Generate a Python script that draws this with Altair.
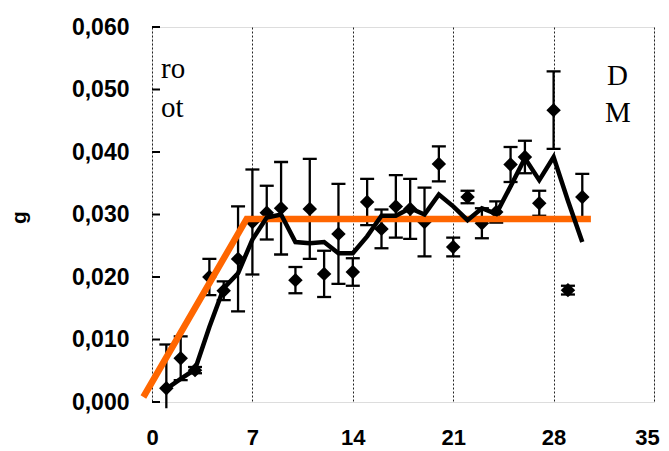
import altair as alt
import pandas as pd

days = list(range(1, 31))
means = [0.0022, 0.0070, 0.0051, 0.0200, 0.0178, 0.0229, 0.0288, 0.0303, 0.0310, 0.0195,
         0.0309, 0.0205, 0.0269, 0.0208, 0.0320, 0.0277, 0.0313, 0.0309, 0.0288, 0.0381,
         0.0248, 0.0328, 0.0286, 0.0304, 0.0380, 0.0392, 0.0318, 0.0467, 0.0179, 0.0328]
errs = [0.0070, 0.0035, 0.0005, 0.0029, 0.0015, 0.0084, 0.0084, 0.0043, 0.0074, 0.0021,
        0.0080, 0.0037, 0.0080, 0.0022, 0.0037, 0.0031, 0.0050, 0.0048, 0.0055, 0.0028,
        0.0015, 0.0010, 0.0024, 0.0017, 0.0028, 0.0026, 0.0020, 0.0062, 0.0007, 0.0037]
smooth = [0.0021, 0.0037, 0.0052, 0.0120, 0.0182, 0.0206, 0.0260, 0.0295, 0.0300, 0.0256,
          0.0254, 0.0256, 0.0238, 0.0238, 0.0265, 0.0298, 0.0298, 0.0310, 0.0300, 0.0332,
          0.0313, 0.0291, 0.0310, 0.0301, 0.0345, 0.0390, 0.0355, 0.0392, 0.0322, 0.0256]

fit_x = [-0.6, 6.6, 30.6]
fit_y = [0.0008, 0.0293, 0.0293]

x_ticks = [0, 7, 14, 21, 28, 35]
y_ticks = [0.0, 0.01, 0.02, 0.03, 0.04, 0.05, 0.06]

ann_text = ["ro", "ot", "D", "M"]
ann_x = [0.63, 0.63, 31.73, 31.59]
ann_y = [0.0518, 0.0456, 0.0507, 0.0448]

Y_FLOOR = -0.001

df = pd.DataFrame({"day": days, "mean": means, "err": errs, "smooth": smooth})
df["lo"] = [max(m - e, Y_FLOOR) for m, e in zip(means, errs)]
df["hi"] = [m + e for m, e in zip(means, errs)]
caps = pd.DataFrame({
    "day": days + days,
    "v": [m + e for m, e in zip(means, errs)] + [m - e for m, e in zip(means, errs)],
})
caps = caps[caps["v"] >= 0]
fit = pd.DataFrame({"day": fit_x, "v": fit_y})
ticks = pd.DataFrame({"t": y_ticks})
ann = pd.DataFrame({"txt": ann_text, "day": ann_x, "v": ann_y})

xscale = alt.Scale(domain=[0, 35], nice=False, zero=False)
yscale = alt.Scale(domain=[0, 0.06], nice=False, zero=False)

xaxis = alt.Axis(values=x_ticks, grid=True, gridDash=[2, 2], gridColor="#222",
                 gridWidth=1, ticks=False, domain=False, labelFont="Liberation Sans",
                 labelFontWeight="bold", labelFontSize=22, labelPadding=25,
                 labelColor="black", title=None, labelFlush=False,
                 labelOffset={"condition": {"test": "datum.value == 35", "value": -7},
                              "value": 0})
yaxis = alt.Axis(values=y_ticks, grid=False, ticks=False, domain=False,
                 labelExpr="replace(format(datum.value, '.3f'), '.', ',')",
                 labelFont="Liberation Sans", labelFontWeight="bold", labelFontSize=23,
                 labelPadding=23, labelColor="black", title="g",
                 titleFont="Liberation Sans", titleFontWeight="bold", titleFontSize=21,
                 titleColor="black", titleX=-133, titleY=190, titleAngle=270,
                 titleAlign="center", titleBaseline="middle", labelFlush=False)

X = lambda f: alt.X(f, scale=xscale, axis=xaxis)
Y = lambda f: alt.Y(f, scale=yscale, axis=yaxis)

bars = alt.Chart(df).mark_rule(color="black", strokeWidth=2.3).encode(
    x=X("day:Q"), y=Y("lo:Q"), y2="hi:Q")
capm = alt.Chart(caps).mark_tick(orient="horizontal", size=14, thickness=2.3,
                                 color="black", opacity=1).encode(
    x=X("day:Q"), y=Y("v:Q"))
pts = alt.Chart(df).mark_point(shape="diamond", filled=True, size=210,
                               color="black", opacity=1).encode(
    x=X("day:Q"), y=Y("mean:Q"))
orange = alt.Chart(fit).mark_line(color="#FF6600", strokeWidth=6.5).encode(
    x=X("day:Q"), y=Y("v:Q"))
line = alt.Chart(df).mark_line(color="black", strokeWidth=4.5,
                               strokeJoin="miter").encode(
    x=X("day:Q"), y=Y("smooth:Q"))
ytick = alt.Chart(ticks).mark_rule(color="black", strokeWidth=2).encode(
    y=Y("t:Q"), x=alt.value(0), x2=alt.value(8))
txt = alt.Chart(ann).mark_text(font="Liberation Serif", fontSize=29, align="left",
                               baseline="alphabetic", color="black").encode(
    x=X("day:Q"), y=Y("v:Q"), text="txt:N")

chart = alt.layer(bars, capm, pts, orange, line, ytick, txt).properties(
    width=502, height=375,
    autosize=alt.AutoSizeParams(type="none"),
    padding={"left": 144, "top": 19, "right": 7, "bottom": 56},
).configure_view(stroke="black", strokeWidth=2.4).configure(background="white")

chart.save("out.html", embed_options={"renderer": "svg", "actions": False})
